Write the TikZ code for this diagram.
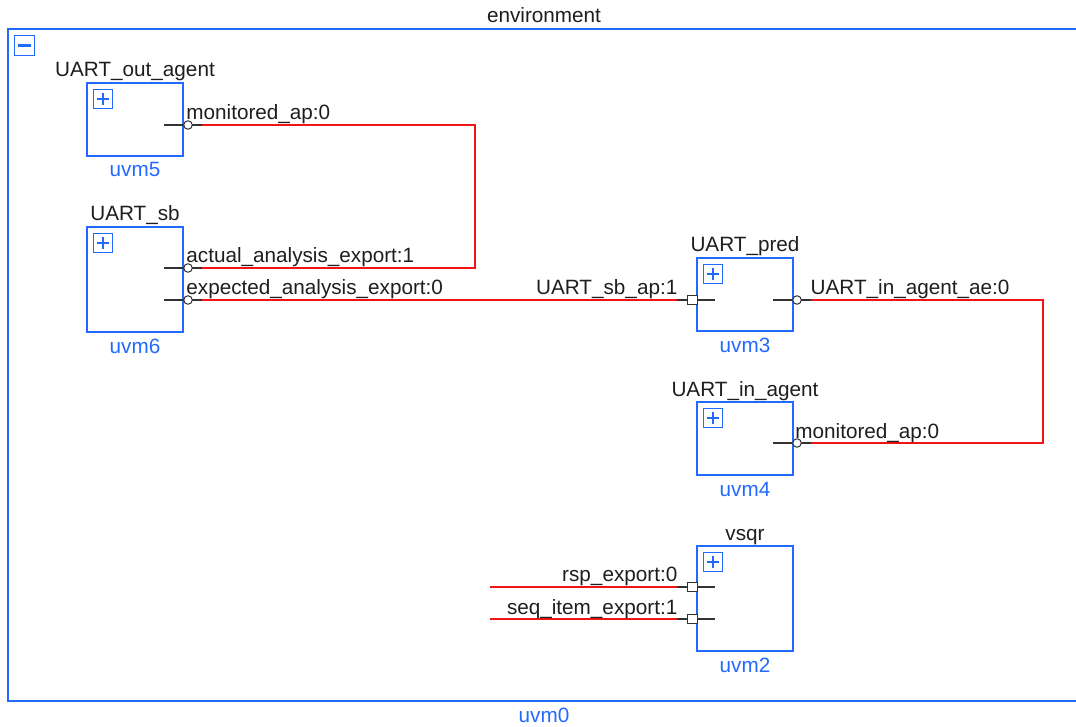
\documentclass[tikz,border=0pt]{standalone}
\usepackage{fontspec}
\setmainfont{Liberation Sans}
\usetikzlibrary{calc}
\definecolor{bl}{RGB}{35,105,255}
\definecolor{tx}{RGB}{30,30,30}
\definecolor{stubc}{RGB}{50,50,50}
\definecolor{wirec}{RGB}{240,20,20}
\begin{document}
\begin{tikzpicture}[x=1pt,y=-1pt,
  font=\fontsize{20.7}{24}\selectfont,
  box/.style={rectangle, draw=bl, line width=1.5pt, minimum width=96pt, anchor=north west, inner sep=0pt, outer sep=0pt},
  iconbox/.style={rectangle, draw=bl, line width=1pt, minimum size=19pt, anchor=north west, inner sep=0pt},
  plusicon/.style={iconbox, path picture={
     \draw[bl, line width=2.4pt] ([xshift=-6pt]path picture bounding box.center) -- ([xshift=6pt]path picture bounding box.center);
     \draw[bl, line width=2.4pt] ([yshift=-6pt]path picture bounding box.center) -- ([yshift=6pt]path picture bounding box.center);}},
  minusicon/.style={iconbox, path picture={
     \draw[bl, line width=2.4pt] ([xshift=-6.5pt]path picture bounding box.center) -- ([xshift=6.5pt]path picture bounding box.center);}},
  ttl/.style={anchor=base, inner sep=0pt, text=tx},
  inst/.style={anchor=base, inner sep=0pt, text=bl},
  plabelw/.style={anchor=base west, inner sep=0pt, text=tx},
  plabele/.style={anchor=base east, inner sep=0pt, text=tx},
  cport/.style={circle, draw=stubc, fill=white, line width=1pt, minimum size=8.5pt, inner sep=0pt},
  sport/.style={rectangle, draw=stubc, fill=white, line width=1pt, minimum width=10pt, minimum height=9pt, inner sep=0pt},
  wire/.style={draw=wirec, line width=1.6pt},
  stubline/.style={draw=stubc, line width=1.4pt}
]
\useasboundingbox (0,0) rectangle (1076,727);
\begin{scope}
\clip (0,0) rectangle (1076,727);
% outer environment box
\node[box, minimum width=1072pt, minimum height=672pt] (uvm0) at (8,29) {};
\node[minusicon, minimum size=20pt] (iuvm0) at ($(uvm0.north west)+(6,6)$) {};
\node[ttl] (tuvm0) at (544,23) {environment};
\node[inst] (nuvm0) at (544,722) {uvm0};

% component boxes
\node[box, minimum height=73pt] (uvm5) at (87,83) {};
\node[box, minimum height=105pt] (uvm6) at (87,227) {};
\node[box, minimum height=73pt] (uvm3) at (697,258) {};
\node[box, minimum height=73pt] (uvm4) at (697,402) {};
\node[box, minimum height=105pt] (uvm2) at (697,546) {};

\foreach \b in {uvm5,uvm6,uvm3,uvm4,uvm2}{
  \node[plusicon] (i\b) at ($(\b.north west)+(6,6)$) {};
}

% titles and instance names
\node[ttl] (tuvm5) at ($(uvm5.north)+(0,-6)$) {UART\_out\_agent};
\node[ttl] (tuvm6) at ($(uvm6.north)+(0,-6)$) {UART\_sb};
\node[ttl] (tuvm3) at ($(uvm3.north)+(0,-6)$) {UART\_pred};
\node[ttl] (tuvm4) at ($(uvm4.north)+(0,-6)$) {UART\_in\_agent};
\node[ttl] (tuvm2) at ($(uvm2.north)+(0,-6)$) {vsqr};
\node[inst] (nuvm5) at ($(uvm5.south)+(0,21)$) {uvm5};
\node[inst] (nuvm6) at ($(uvm6.south)+(0,21)$) {uvm6};
\node[inst] (nuvm3) at ($(uvm3.south)+(0,21)$) {uvm3};
\node[inst] (nuvm4) at ($(uvm4.south)+(0,21)$) {uvm4};
\node[inst] (nuvm2) at ($(uvm2.south)+(0,21)$) {uvm2};

% port positions
\coordinate (q5) at (188,125);
\coordinate (q6a) at (188,268);
\coordinate (q6e) at (188,300);
\coordinate (q3in) at (692,300);
\coordinate (q3out) at (797,300);
\coordinate (q4) at (797,443);
\coordinate (q2r) at (692,587);
\coordinate (q2s) at (692,619);
\coordinate (c1) at (475,125);
\coordinate (c2) at (1043,300);
\coordinate (f1) at (490,587);
\coordinate (f2) at (490,619);

% wires
\draw[wire] (q5) -- (c1) |- (q6a);
\draw[wire] (q6e) -- (q3in);
\draw[wire] (q3out) -- (c2) |- (q4);
\draw[wire] (f1) -- (q2r);
\draw[wire] (f2) -- (q2s);

% stubs
\foreach \p in {q5,q6a,q6e,q3out,q4}{
  \draw[stubline] ($(\p)+(-24,0)$) -- ($(\p)+(13.5,0)$);
}
\foreach \p in {q3in,q2r,q2s}{
  \draw[stubline] ($(\p)+(-15,0)$) -- ($(\p)+(23,0)$);
}

% port markers
\node[cport] (p5) at (q5) {};
\node[cport] (p6a) at (q6a) {};
\node[cport] (p6e) at (q6e) {};
\node[sport] (p3in) at (q3in) {};
\node[cport] (p3out) at (q3out) {};
\node[cport] (p4) at (q4) {};
\node[sport] (p2r) at (q2r) {};
\node[sport] (p2s) at (q2s) {};

% port labels
\node[plabelw] (l5) at (186.2,119.5) {monitored\_ap:0};
\node[plabelw] (l6a) at (186.2,262.6) {actual\_analysis\_export:1};
\node[plabelw] (l6e) at (186.2,294.8) {expected\_analysis\_export:0};
\node[plabele] (l3in) at (677.5,294.8) {UART\_sb\_ap:1};
\node[plabelw] (l3out) at (810.5,294.8) {UART\_in\_agent\_ae:0};
\node[plabelw] (l4) at (795.2,438.2) {monitored\_ap:0};
\node[plabele] (l2r) at (677.5,581.5) {rsp\_export:0};
\node[plabele] (l2s) at (677.5,614.1) {seq\_item\_export:1};
\end{scope}
\end{tikzpicture}
\end{document}
